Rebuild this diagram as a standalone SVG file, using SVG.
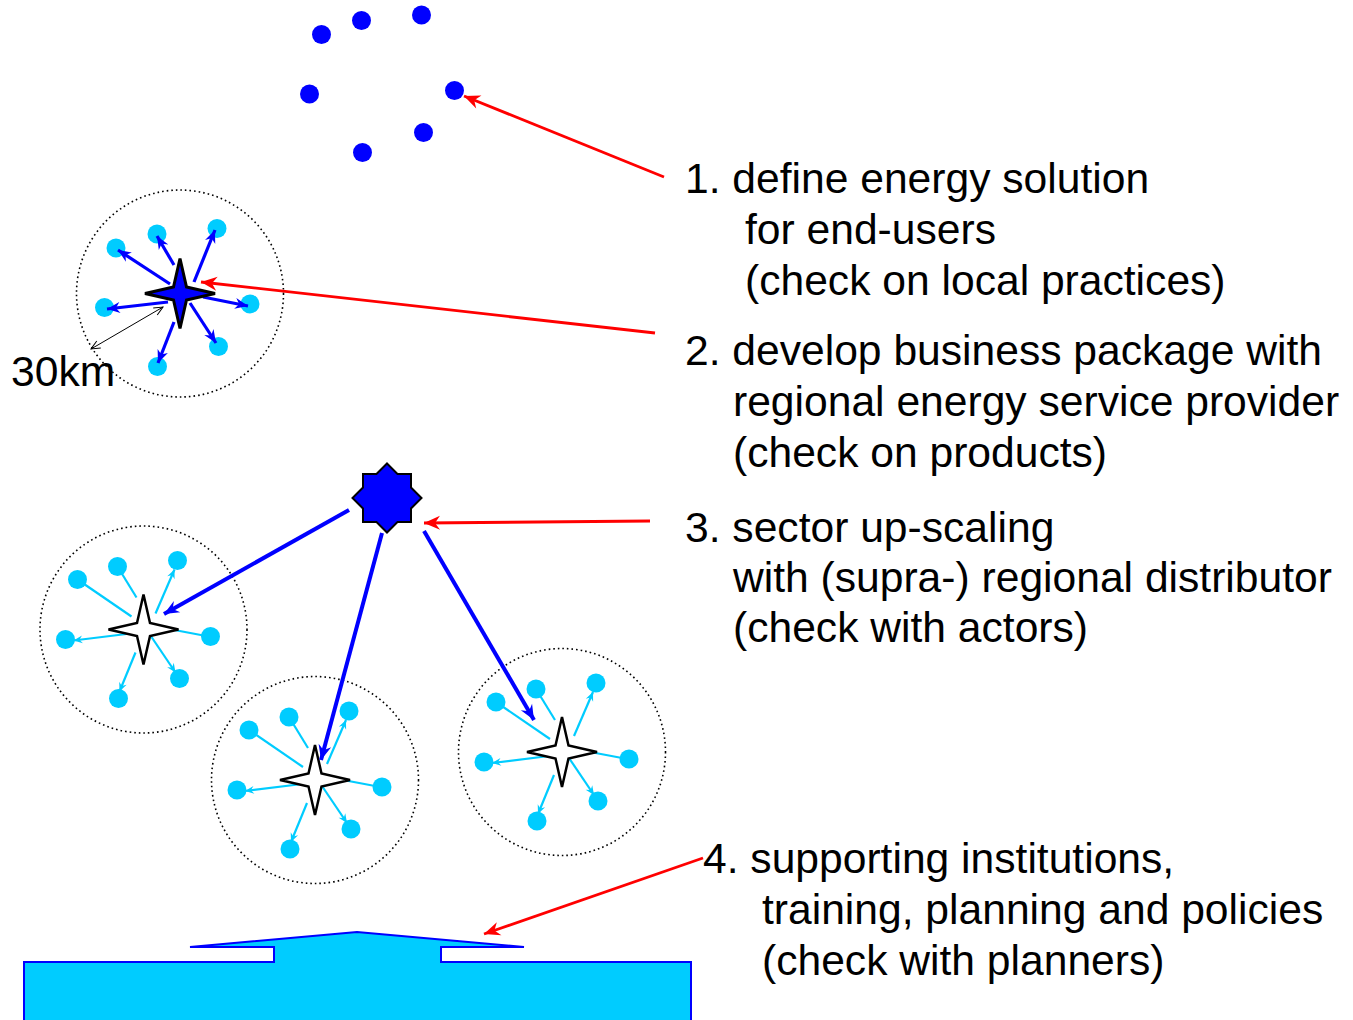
<svg xmlns="http://www.w3.org/2000/svg" width="1353" height="1020" viewBox="0 0 1353 1020">
<style>
.lbl{font-family:"Liberation Sans",Arial,sans-serif;font-size:42.6px;fill:#000}
.ring{fill:none;stroke:#000;stroke-width:1.6;stroke-dasharray:1.6 3}
.dot{fill:#0000FF}
.cdot{fill:#00CCFF}
.red{stroke:#FF0000;stroke-width:2.8;fill:none;marker-end:url(#redHead)}
.barrow{stroke:#0000FF;stroke-width:3.2;fill:none;marker-end:url(#blueHead)}
.bigarrow{stroke:#0000FF;stroke-width:4;fill:none;marker-end:url(#bigHead)}
.cline{stroke:#00CCFF;stroke-width:2.2;fill:none}
.carrow{stroke:#00CCFF;stroke-width:2.2;fill:none;marker-end:url(#cyanHead)}
.wstar{fill:#fff;stroke:#000;stroke-width:2.5;stroke-linejoin:miter}
</style>
<defs>
<marker id="redHead" viewBox="-17 -8 19 16" refX="0" refY="0" markerWidth="19" markerHeight="16" markerUnits="userSpaceOnUse" orient="auto"><path d="M0,0 L-16,-7 L-11,0 L-16,7 Z" fill="#FF0000"/></marker>
<marker id="blueHead" viewBox="-14 -7 15 14" refX="0" refY="0" markerWidth="15" markerHeight="14" markerUnits="userSpaceOnUse" orient="auto"><path d="M0,0 L-13,-5.5 L-9,0 L-13,5.5 Z" fill="#0000FF"/></marker>
<marker id="bigHead" viewBox="-16 -8 17 16" refX="0" refY="0" markerWidth="17" markerHeight="16" markerUnits="userSpaceOnUse" orient="auto"><path d="M0,0 L-15,-6.5 L-10,0 L-15,6.5 Z" fill="#0000FF"/></marker>
<marker id="cyanHead" viewBox="-10 -5 11 10" refX="0" refY="0" markerWidth="11" markerHeight="10" markerUnits="userSpaceOnUse" orient="auto"><path d="M0,0 L-9,-4 L-6,0 L-9,4 Z" fill="#00CCFF"/></marker>
<marker id="blackHead" viewBox="-11 -6 12 12" refX="0" refY="0" markerWidth="12" markerHeight="12" markerUnits="userSpaceOnUse" orient="auto-start-reverse"><path d="M-9,-4 L0,0 L-9,4" fill="none" stroke="#000" stroke-width="1"/></marker>
<path id="star4" d="M0,-35 L6.5,-6.5 L35,0 L6.5,6.5 L0,35 L-6.5,6.5 L-35,0 L-6.5,-6.5 Z"/>
<g id="subcluster">
<circle class="ring" cx="0" cy="0" r="103.5"/>
<line class="cline" x1="-66" y1="-50" x2="-12" y2="-13"/>
<line class="cline" x1="-26" y1="-63" x2="-7" y2="-32"/>
<line class="carrow" x1="12" y1="-16" x2="31" y2="-60"/>
<line class="carrow" x1="-13" y1="4" x2="-70" y2="11"/>
<line class="cline" x1="23" y1="-1" x2="60" y2="6"/>
<line class="carrow" x1="7" y1="6" x2="32" y2="43"/>
<line class="carrow" x1="-8" y1="23" x2="-24" y2="62"/>
<circle class="cdot" cx="-66" cy="-50" r="9.5"/>
<circle class="cdot" cx="-26" cy="-63" r="9.5"/>
<circle class="cdot" cx="34" cy="-69" r="9.5"/>
<circle class="cdot" cx="-78" cy="10" r="9.5"/>
<circle class="cdot" cx="67" cy="7" r="9.5"/>
<circle class="cdot" cx="36" cy="49" r="9.5"/>
<circle class="cdot" cx="-25" cy="69" r="9.5"/>
<use href="#star4" class="wstar"/>
</g>
</defs>

<g id="end-users">
<circle class="dot" cx="321.5" cy="34.5" r="9.5"/>
<circle class="dot" cx="361.5" cy="20.5" r="9.5"/>
<circle class="dot" cx="421.5" cy="15" r="9.5"/>
<circle class="dot" cx="309.5" cy="94" r="9.5"/>
<circle class="dot" cx="454.5" cy="90.5" r="9.5"/>
<circle class="dot" cx="423.5" cy="132.5" r="9.5"/>
<circle class="dot" cx="362.5" cy="152.5" r="9.5"/>
</g>

<g id="regional-provider">
<circle class="ring" cx="180" cy="293.5" r="103.5"/>
<circle class="cdot" cx="116" cy="248" r="9.5"/>
<circle class="cdot" cx="157" cy="234" r="9.5"/>
<circle class="cdot" cx="217" cy="228.5" r="9.5"/>
<circle class="cdot" cx="104.5" cy="307.5" r="9.5"/>
<circle class="cdot" cx="250" cy="304" r="9.5"/>
<circle class="cdot" cx="218.5" cy="346.5" r="9.5"/>
<circle class="cdot" cx="157.5" cy="366.5" r="9.5"/>
<line class="barrow" x1="170" y1="284" x2="118" y2="250"/>
<line class="barrow" x1="174" y1="265" x2="157" y2="236"/>
<line class="barrow" x1="194" y1="282" x2="215" y2="230"/>
<line class="barrow" x1="168" y1="302" x2="107" y2="309"/>
<line class="barrow" x1="203" y1="297" x2="248" y2="306"/>
<line class="barrow" x1="190" y1="303" x2="216" y2="343"/>
<line class="barrow" x1="174" y1="322" x2="158" y2="363"/>
<use href="#star4" x="180" y="293.5" fill="#0000FF" stroke="#000" stroke-width="3"/>
<line x1="163" y1="307" x2="91" y2="349" stroke="#000" stroke-width="1" marker-start="url(#blackHead)" marker-end="url(#blackHead)"/>
<text class="lbl" x="11" y="386">30km</text>
</g>

<g id="distributor">
<path d="M387,463.5 L397.5,474 L411,474 L411,487.5 L421.5,498 L411,508.5 L411,522 L397.5,522 L387,532.5 L376.5,522 L363,522 L363,508.5 L352.5,498 L363,487.5 L363,474 L376.5,474 Z" fill="#0000FF" stroke="#000" stroke-width="2"/>
</g>

<g id="cluster-left"><use href="#subcluster" transform="translate(143.5,629.5)"/></g>
<g id="cluster-middle"><use href="#subcluster" transform="translate(315,780)"/></g>
<g id="cluster-right"><use href="#subcluster" transform="translate(562,752)"/></g>

<g id="institutions">
<path d="M24,1024 L24,962 L274,962 L274,947 L190,947 L357,932 L524,947 L441,947 L441,962 L691,962 L691,1024 Z" fill="#00CCFF" stroke="#0000FF" stroke-width="2"/>
</g>

<g id="connectors">
<line class="bigarrow" x1="349" y1="510" x2="164" y2="614"/>
<line class="bigarrow" x1="382" y1="533" x2="321" y2="760"/>
<line class="bigarrow" x1="424" y1="531" x2="534" y2="720"/>
<line class="red" x1="664" y1="177" x2="464" y2="96"/>
<line class="red" x1="655" y1="333" x2="201" y2="282"/>
<line class="red" x1="650" y1="521" x2="424" y2="523"/>
<line class="red" x1="703" y1="858" x2="484" y2="934"/>
</g>

<g id="labels">
<text class="lbl" x="685" y="193">1. define energy solution</text>
<text class="lbl" x="745" y="244">for end-users</text>
<text class="lbl" x="745" y="295">(check on local practices)</text>
<text class="lbl" x="685" y="365">2. develop business package with</text>
<text class="lbl" x="733" y="416">regional energy service provider</text>
<text class="lbl" x="733" y="467">(check on products)</text>
<text class="lbl" x="685" y="542">3. sector up-scaling</text>
<text class="lbl" x="733" y="592">with (supra-) regional distributor</text>
<text class="lbl" x="733" y="642">(check with actors)</text>
<text class="lbl" x="703" y="873">4. supporting institutions,</text>
<text class="lbl" x="762" y="924">training, planning and policies</text>
<text class="lbl" x="762" y="975">(check with planners)</text>
</g>
</svg>
